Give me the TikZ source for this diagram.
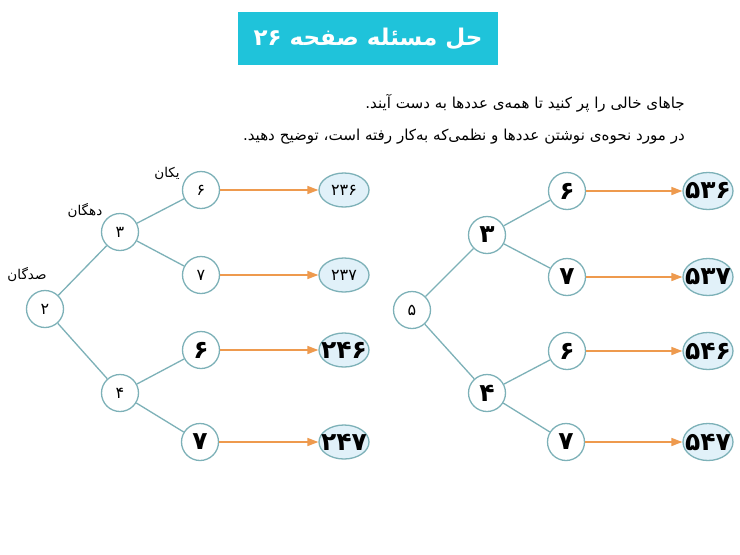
\documentclass[tikz,border=0pt]{standalone}
\usepackage{fontspec}
\usetikzlibrary{shapes.geometric,arrows.meta}
\TeXXeTstate=1
\newfontfamily\fa[Script=Arabic]{DejaVu Sans}
\definecolor{titlecyan}{HTML}{1FC3DA}
\definecolor{linecol}{HTML}{7DB1B8}
\definecolor{arrowcol}{HTML}{EE9A4E}
\definecolor{ellfill}{HTML}{E1F1F9}
\newcommand{\zw}[1]{\makebox[0pt]{#1}}
\tikzset{
  circ/.style={circle,draw=linecol,line width=1.3pt,fill=white,minimum size=37pt,inner sep=0pt},
  ell/.style={ellipse,draw=linecol,line width=1.3pt,fill=ellfill,minimum width=50pt,minimum height=34pt,inner sep=0pt},
  edge/.style={draw=linecol,line width=1.3pt},
  arr/.style={draw=arrowcol,line width=1.6pt,-{Triangle[length=11pt,width=8pt]}},
  small/.style={font=\fa\fontsize{16}{18}\selectfont},
  big/.style={font=\fa\bfseries\fontsize{25}{28}\selectfont},
  lab/.style={font=\fa\fontsize{13.5}{16}\selectfont},
  instr/.style={font=\fa\fontsize{15.1}{18}\selectfont,anchor=east,inner sep=0pt}
}
\begin{document}
\begin{tikzpicture}[x=1pt,y=-1pt]
\fill[white] (0,0) rectangle (740,555);
\useasboundingbox (0,0) rectangle (740,555);
% title
\node[fill=titlecyan,minimum width=260pt,minimum height=53pt,inner sep=0pt,
  font=\fa\bfseries\fontsize{23}{27}\selectfont,text=white] (title) at (368,38.5)
  {\beginR حل مسئله صفحه \beginL۲۶\endL{}\endR};
% instructions
\node[instr] (ins1) at (685,103) {\beginR جاهای خالی را پر کنید تا همه‌ی عددها به دست آیند.\endR};
\node[instr] (ins2) at (685,137) {\beginR در مورد نحوه‌ی نوشتن عددها و نظمی‌که به‌کار رفته است، توضیح دهید.\endR};
% left tree
\node[circ,small] (L2) at (45,309) {۲};
\node[circ,small] (L3) at (120,232) {۳};
\node[circ,small] (L4) at (120,393) {۴};
\node[circ,small] (L6a) at (201,190) {۶};
\node[circ,small] (L7a) at (201,275) {۷};
\node[circ,big] (L6b) at (201,350) {۶};
\node[circ,big] (L7b) at (200,442) {۷};
\node[ell,small] (E236) at (344,190) {\zw{۲۳۶}};
\node[ell,small] (E237) at (344,275) {\zw{۲۳۷}};
\node[ell,big] (E246) at (344,350) {\zw{۲۴۶}};
\node[ell,big] (E247) at (344,442) {\zw{۲۴۷}};
\node[lab] (lyek) at (167,173) {\beginR یکان\endR};
\node[lab] (ldah) at (85,211) {\beginR دهگان\endR};
\node[lab] (lsad) at (27,275) {\beginR صدگان\endR};
\draw[edge] (L2) -- (L3);
\draw[edge] (L2) -- (L4);
\draw[edge] (L3) -- (L6a);
\draw[edge] (L3) -- (L7a);
\draw[edge] (L4) -- (L6b);
\draw[edge] (L4) -- (L7b);
\draw[arr] (L6a) -- (E236);
\draw[arr] (L7a) -- (E237);
\draw[arr] (L6b) -- (E246);
\draw[arr] (L7b) -- (E247);
% right tree
\node[circ,small] (R5) at (412,310) {۵};
\node[circ,big] (R3) at (487,235) {۳};
\node[circ,big] (R4) at (487,393) {۴};
\node[circ,big] (R6a) at (567,191) {۶};
\node[circ,big] (R7a) at (567,277) {۷};
\node[circ,big] (R6b) at (567,351) {۶};
\node[circ,big] (R7b) at (566,442) {۷};
\node[ell,big,minimum height=37pt] (E536) at (708,191) {\zw{۵۳۶}};
\node[ell,big,minimum height=37pt] (E537) at (708,277) {\zw{۵۳۷}};
\node[ell,big,minimum height=37pt] (E546) at (708,351) {\zw{۵۴۶}};
\node[ell,big,minimum height=37pt] (E547) at (708,442) {\zw{۵۴۷}};
\draw[edge] (R5) -- (R3);
\draw[edge] (R5) -- (R4);
\draw[edge] (R3) -- (R6a);
\draw[edge] (R3) -- (R7a);
\draw[edge] (R4) -- (R6b);
\draw[edge] (R4) -- (R7b);
\draw[arr] (R6a) -- (E536);
\draw[arr] (R7a) -- (E537);
\draw[arr] (R6b) -- (E546);
\draw[arr] (R7b) -- (E547);
\end{tikzpicture}
\end{document}
